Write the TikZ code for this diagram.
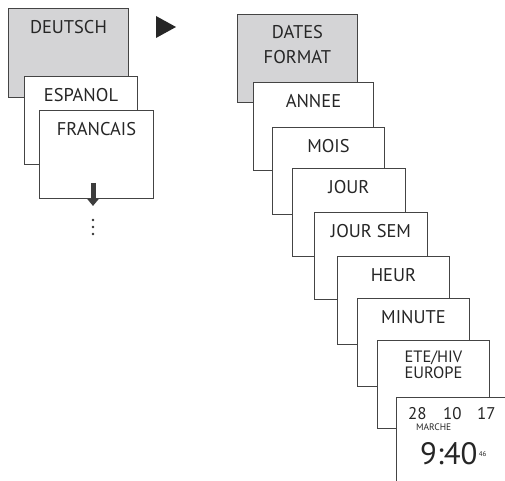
\documentclass[tikz,border=0pt]{standalone}
\usepackage{fontspec}
\setmainfont{PT Sans}
\usetikzlibrary{arrows.meta}

\definecolor{frame}{HTML}{444444}
\definecolor{shade}{HTML}{D4D4D6}

\tikzset{
  menubox/.style={draw=frame, line width=0.9bp, fill=white, anchor=north west,
    minimum width=113bp, minimum height=88bp, inner sep=0pt},
  headbox/.style={menubox, fill=shade, minimum width=120bp},
  lbl/.style={anchor=north, inner sep=0pt, yshift=-12bp, align=center,
    font=\fontsize{18.5}{25}\selectfont, text=black!85},
}

\begin{document}
\begin{tikzpicture}[x=1bp,y=-1bp]
  \clip (0,0) rectangle (505,481);
  \fill[white] (0,0) rectangle (505,481);

  % language menu
  \node[headbox, minimum height=89bp, label={[lbl]north:DEUTSCH}] (deutsch) at (8,8) {};
  \node[menubox, label={[lbl]north:ESPANOL}] (espanol) at (24,76) {};
  \node[menubox, minimum width=114bp, label={[lbl]north:FRANCAIS}] (francais) at (39,110) {};
  \coordinate (down) at (93,206);
  \draw[frame!90!black, line width=5bp, -{Triangle[width=11bp,length=7bp]}]
    (93,183) -- (down);
  \foreach \y in {220,227,234}
    \fill[black!80] (93,\y) circle (1.3bp);

  \fill[black!85] (156,16) -- (176,27) -- (156,38) -- cycle;

  % date menu
  \node[headbox, label={[lbl, yshift=1bp]north:DATES\\FORMAT}] (dates) at (237,14) {};
  \node[menubox, minimum width=120bp, label={[lbl]north:ANNEE}] (annee) at (253,82) {};
  \node[menubox, minimum width=112bp, minimum height=87bp, label={[lbl]north:MOIS}] (mois) at (272,127) {};
  \node[menubox, label={[lbl]north:JOUR}] (jour) at (292,168) {};
  \node[menubox, minimum height=87bp, label={[lbl]north:JOUR SEM}] (joursem) at (314,212) {};
  \node[menubox, minimum width=112bp, label={[lbl]north:HEUR}] (heur) at (337,256) {};
  \node[menubox, minimum width=112bp, label={[lbl]north:MINUTE}] (minute) at (357,298) {};
  \node[menubox, minimum width=112bp,
    label={[lbl, yshift=1bp, font=\fontsize{16.5}{15.5}\selectfont]north:ETE/HIV\\EUROPE}] (etehiv) at (377,340) {};
  \node[menubox, minimum width=130bp, minimum height=110bp] (display) at (396,397) {};

  % display contents
  \begin{scope}[every node/.style={inner sep=0pt, anchor=base west, text=black!85}]
    \node[font=\fontsize{17}{17}\selectfont] (day) at (408,419) {28};
    \node[font=\fontsize{17}{17}\selectfont] (month) at (443,419) {10};
    \node[font=\fontsize{17}{17}\selectfont] (year) at (477,419) {17};
    \node[font=\fontsize{9.5}{9.5}\selectfont] (marche) at (416,430) {MARCHE};
    \node[font=\fontsize{31}{31}\selectfont] (clock) at (420,464) {9:40};
    \node[font=\fontsize{7}{7}\selectfont] (sec) at (clock.base east) [xshift=1bp, yshift=8bp] {46};
  \end{scope}
\end{tikzpicture}
\end{document}
